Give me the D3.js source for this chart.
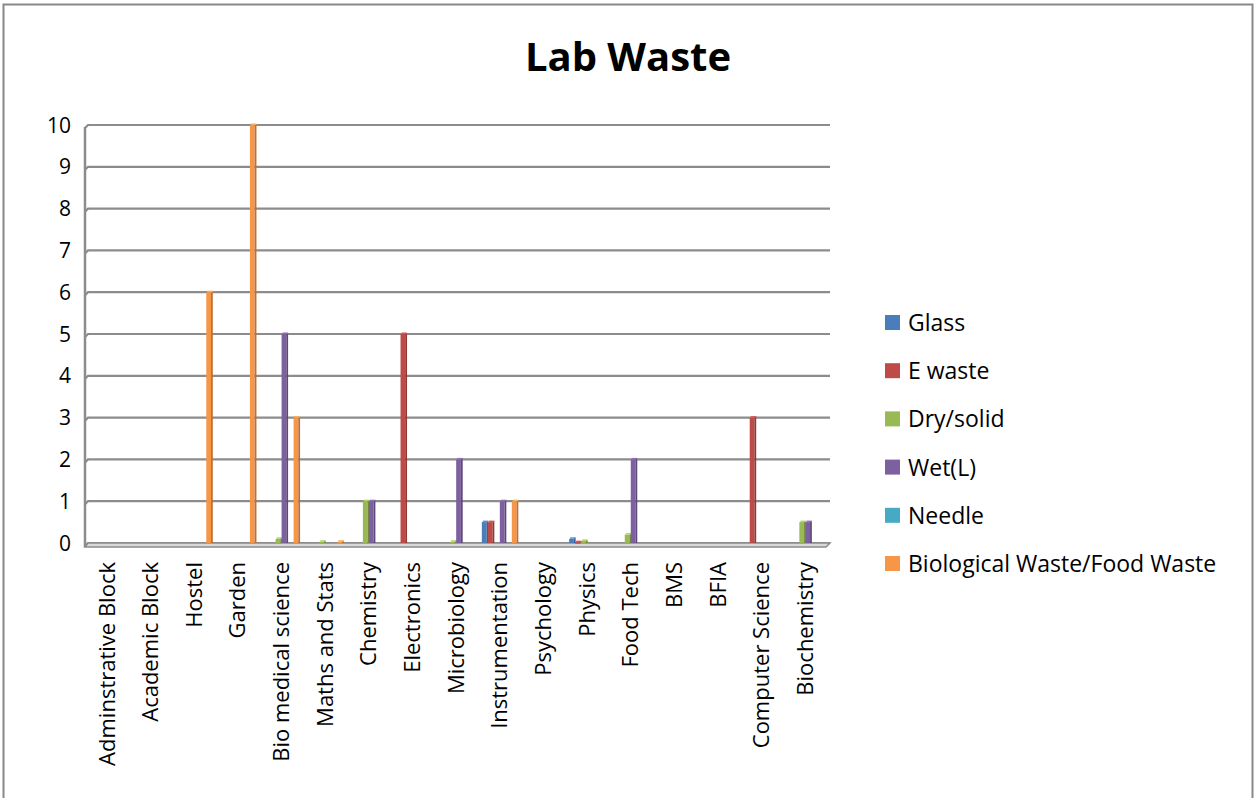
<!DOCTYPE html>
<html>
<head>
<meta charset="utf-8">
<script src="https://cdn.jsdelivr.net/npm/d3@7/dist/d3.min.js"></script>
<style>
  html, body { margin: 0; padding: 0; background: #fff; }
  svg { display: block; }
  text { font-family: "Open Sans", "Liberation Sans", sans-serif; fill: #000; }
</style>
</head>
<body>
<svg id="chart" width="1254" height="798"></svg>
<script>
// Departments along the x axis
const categories = [
  "Adminstrative Block", "Academic Block", "Hostel", "Garden", "Bio medical science",
  "Maths and Stats", "Chemistry", "Electronics", "Microbiology", "Instrumentation",
  "Psychology", "Physics", "Food Tech", "BMS", "BFIA", "Computer Science", "Biochemistry"
];

// Waste types (series)
const seriesNames = ["Glass", "E waste", "Dry/solid", "Wet(L)", "Needle", "Biological Waste/Food Waste"];
const seriesColors = ["#4a7ebb", "#be4b48", "#98b954", "#7d60a0", "#46aac5", "#f79646"];

// Quantities per department, one array per waste type
const glass      = [0, 0, 0, 0, 0,    0,    0, 0, 0,    0.5, 0, 0.1,  0,   0, 0, 0, 0];
const eWaste     = [0, 0, 0, 0, 0,    0,    0, 5, 0,    0.5, 0, 0.02, 0,   0, 0, 3, 0];
const drySolid   = [0, 0, 0, 0, 0.1,  0.03, 1, 0, 0.03, 0,   0, 0.05, 0.2, 0, 0, 0, 0.5];
const wetL       = [0, 0, 0, 0, 5,    0,    1, 0, 2,    1,   0, 0,    2,   0, 0, 0, 0.5];
const needle     = [0, 0, 0, 0, 0,    0,    0, 0, 0,    0,   0, 0,    0,   0, 0, 0, 0];
const biological = [0, 0, 6, 10, 3,   0.03, 0, 0, 0,    1,   0, 0,    0,   0, 0, 0, 0];

const seriesValues = [glass, eWaste, drySolid, wetL, needle, biological];

const yTicks = [0, 1, 2, 3, 4, 5, 6, 7, 8, 9, 10];

const svg = d3.select("#chart");
const W = 1254, H = 798;

// Outer chart frame
svg.append("rect")
  .attr("x", 3.5).attr("y", 4.5)
  .attr("width", W - 5).attr("height", H + 5)
  .attr("fill", "#fff").attr("stroke", "#888").attr("stroke-width", 2);

// Title
svg.append("text")
  .attr("x", 628).attr("y", 71)
  .attr("text-anchor", "middle")
  .style("font-size", "40px").style("font-weight", "bold")
  .text("Lab Waste");

const plot = { left: 88, right: 830, top: 125, bottom: 543 };
const wallX = 85;

const x = d3.scaleBand()
  .domain(categories)
  .range([plot.left, plot.right])
  .paddingInner(0).paddingOuter(0);

const y = d3.scaleLinear().domain([0, 10]).range([plot.bottom, plot.top]);

// Series position inside each category: six adjacent bars, gap on the right
const groupWidth = 36;
const xs = d3.scaleBand()
  .domain(d3.range(seriesNames.length))
  .range([1, 1 + groupWidth])
  .paddingInner(0).paddingOuter(0);

// Back wall gridlines with small perspective bend at the left wall
const grid = svg.append("g");
yTicks.forEach(t => {
  const yy = y(t);
  grid.append("path")
    .attr("d", `M${wallX},${yy + 3} L${wallX + 3},${yy} L${plot.right},${yy}`)
    .attr("fill", "none")
    .attr("stroke", "#8c8c8c")
    .attr("stroke-width", 2.2);
});

// Left side wall
grid.append("line")
  .attr("x1", wallX).attr("x2", wallX)
  .attr("y1", y(10) + 2).attr("y2", plot.bottom + 4)
  .attr("stroke", "#8c8c8c").attr("stroke-width", 2.5);

// Floor
grid.append("path")
  .attr("d", `M${wallX},${plot.bottom + 4} L${plot.left},${plot.bottom} L${plot.right},${plot.bottom} L${plot.right - 4},${plot.bottom + 4} Z`)
  .attr("fill", "#d9d9d9").attr("stroke", "#8c8c8c").attr("stroke-width", 1.5);

// Y tick labels
svg.append("g").selectAll("text")
  .data(yTicks)
  .join("text")
  .attr("x", 71)
  .attr("y", d => y(d) + 7.5)
  .attr("text-anchor", "end")
  .style("font-size", "21px")
  .text(d => d);

// Bars (front face + darker side + lighter top for a shallow 3D look)
const barsG = svg.append("g");
const bw = xs.bandwidth() + 0.5;
const side = 1.8;
seriesValues.forEach((vals, si) => {
  const col = d3.color(seriesColors[si]);
  const g = barsG.append("g");
  const data = vals.map((v, ci) => ({ v, c: categories[ci] })).filter(d => d.v > 0);
  g.selectAll("rect.front")
    .data(data)
    .join("rect")
    .attr("class", "front")
    .attr("x", d => x(d.c) + xs(si))
    .attr("y", d => y(d.v))
    .attr("width", bw - side)
    .attr("height", d => Math.max(1.5, y(0) - y(d.v)))
    .attr("fill", col.formatHex());
  g.selectAll("rect.side")
    .data(data)
    .join("rect")
    .attr("class", "side")
    .attr("x", d => x(d.c) + xs(si) + bw - side)
    .attr("y", d => y(d.v) - 1)
    .attr("width", side)
    .attr("height", d => Math.max(1.5, y(0) - y(d.v) + 1))
    .attr("fill", col.darker(0.8).formatHex());
  g.selectAll("rect.top")
    .data(data)
    .join("rect")
    .attr("class", "top")
    .attr("x", d => x(d.c) + xs(si) + 1)
    .attr("y", d => y(d.v) - 1.5)
    .attr("width", bw - 1)
    .attr("height", 1.5)
    .attr("fill", col.brighter(0.4).formatHex());
});

// X category labels, rotated
svg.append("g").selectAll("text")
  .data(categories)
  .join("text")
  .attr("transform", d => `translate(${x(d) + 1 + groupWidth / 2 + 7.5},562) rotate(-90)`)
  .attr("text-anchor", "end")
  .style("font-size", "22px")
  .text(d => d);

// Legend
const legend = svg.append("g");
seriesNames.forEach((name, i) => {
  const yy = 323 + i * 48.2;
  legend.append("rect")
    .attr("x", 885).attr("y", yy - 8)
    .attr("width", 15).attr("height", 15)
    .attr("fill", seriesColors[i]);
  legend.append("text")
    .attr("x", 908).attr("y", yy + 8)
    .style("font-size", "23px")
    .text(name);
});
</script>
</body>
</html>
